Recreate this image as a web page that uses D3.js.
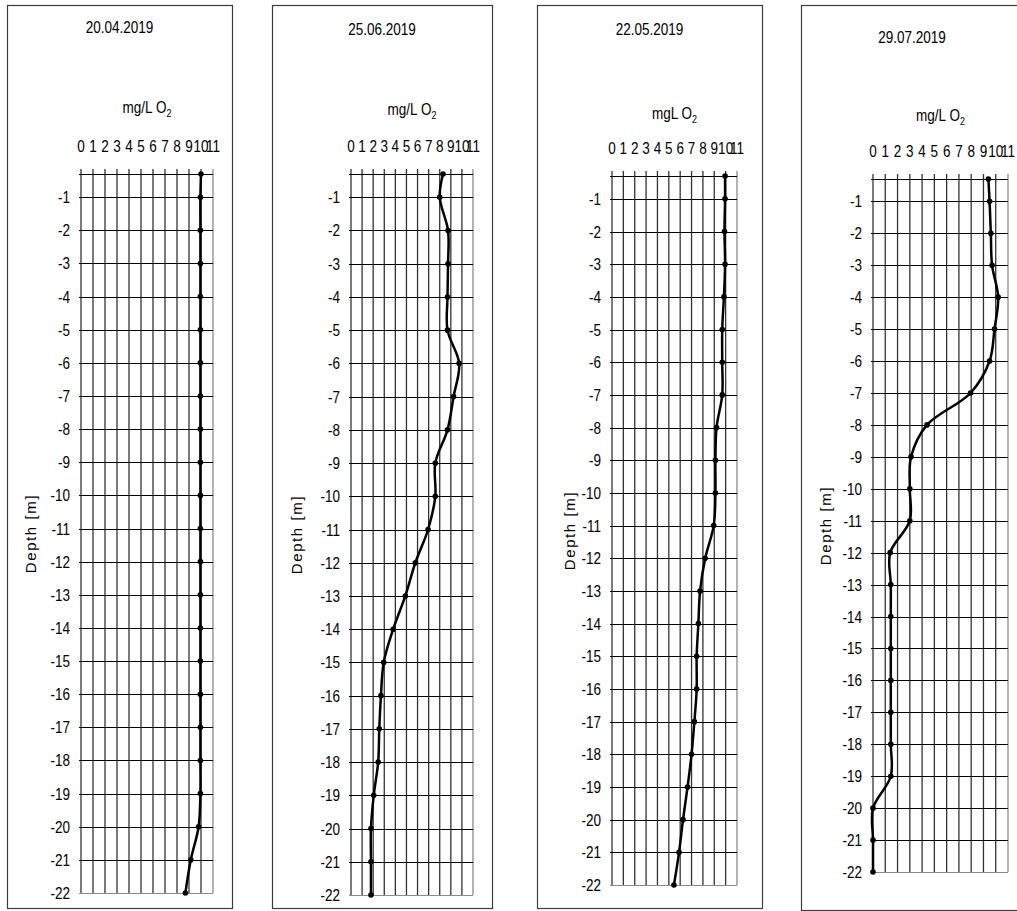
<!DOCTYPE html>
<html>
<head>
<meta charset="utf-8">
<script src="https://cdn.jsdelivr.net/npm/d3@7"></script>
<style>
  html, body { margin: 0; padding: 0; background: #fff; }
  svg { display: block; }
  text { font-family: "Liberation Sans", Arial, sans-serif; fill: #000; }
</style>
</head>
<body>
<script>
// Dissolved oxygen profiles (mg/L O2) against depth, one panel per sampling date.
const depths = [-0.3, -1, -2, -3, -4, -5, -6, -7, -8, -9, -10, -11,
                -12, -13, -14, -15, -16, -17, -18, -19, -20, -21, -22];

const o2_20Apr = [10.0, 9.95, 9.95, 9.95, 9.95, 9.95, 9.95, 9.95, 9.95, 9.95, 9.95, 9.95,
                  9.95, 9.95, 9.95, 9.95, 9.95, 9.95, 9.95, 9.95, 9.8, 9.15, 8.7];
const o2_25Jun = [8.3, 8.0, 8.75, 8.75, 8.7, 8.7, 9.75, 9.25, 8.7, 7.6, 7.6, 6.95,
                  5.8, 4.9, 3.8, 2.95, 2.7, 2.55, 2.45, 2.05, 1.8, 1.8, 1.8];
const o2_22May = [9.95, 9.95, 9.9, 9.95, 9.85, 9.7, 9.7, 9.7, 9.2, 9.1, 9.1, 8.95,
                  8.2, 7.75, 7.6, 7.45, 7.45, 7.25, 7.0, 6.65, 6.25, 5.9, 5.45];
const o2_29Jul = [9.4, 9.5, 9.6, 9.7, 10.2, 9.9, 9.5, 7.95, 4.4, 3.1, 3.0, 3.0,
                  1.4, 1.45, 1.45, 1.45, 1.45, 1.45, 1.45, 1.45, 0, 0, 0];

const dates = ["20.04.2019", "25.06.2019", "22.05.2019", "29.07.2019"];
const unitLabels = ["mg/L O", "mg/L O", "mgL O", "mg/L O"];
const depthTitle = "Depth [m]";
const xTicks = d3.range(0, 12);          // 0 .. 11 mg/L
const yTicks = d3.range(-1, -23, -1);    // -1 .. -22 m
const xDomain = [0, 11];
const yDomain = [-22, -0.3];

const series = [o2_20Apr, o2_25Jun, o2_22May, o2_29Jul];

// Panel geometry: outer frame and plot area for each date.
const panels = [
  { frame: [7, 5, 232, 908],   plot: [81, 174, 213, 893],  titleY: 33, unitY: 113, depthX: 31 },
  { frame: [272, 5, 492, 908], plot: [351, 174, 473, 895], titleY: 35, unitY: 115, depthX: 297 },
  { frame: [537, 5, 762, 908], plot: [612, 176, 737, 885], titleY: 35, unitY: 119, depthX: 570 },
  { frame: [801, 5, 1030, 910], plot: [873, 179, 1008, 872], titleY: 43, unitY: 121, depthX: 826 }
];

const W = 1017, H = 911;
const SX = 0.82;      // narrow text face
const FS = 16.5;

const svg = d3.select("body").append("svg")
  .attr("width", W).attr("height", H);

function label(g, x, y, str, anchor, size) {
  return g.append("text")
    .attr("transform", `translate(${x},${y}) scale(${SX},1)`)
    .attr("text-anchor", anchor || "middle")
    .style("font-size", (size || FS) + "px")
    .text(str);
}

panels.forEach((p, i) => {
  const g = svg.append("g");
  const [fx0, fy0, fx1, fy1] = p.frame;
  const [px0, py0, px1, py1] = p.plot;

  // outer frame
  g.append("rect")
    .attr("x", fx0 + 0.5).attr("y", fy0 + 0.5)
    .attr("width", fx1 - fx0).attr("height", fy1 - fy0)
    .attr("fill", "#fff").attr("stroke", "#3c3c3c").attr("stroke-width", 1.2);

  const x = d3.scaleLinear().domain(xDomain).range([px0, px1]);
  const y = d3.scaleLinear().domain(yDomain).range([py1, py0]);

  // vertical grid (with tick marks above the top edge)
  g.append("g").selectAll("line").data(xTicks).join("line")
    .attr("x1", d => x(d)).attr("x2", d => x(d))
    .attr("y1", py0 - 5).attr("y2", py1)
    .attr("stroke", d => d === xDomain[1] ? "#8a8a8a" : "#333")
    .attr("stroke-width", 1.3);

  // horizontal grid
  g.append("g").selectAll("line").data(yTicks).join("line")
    .attr("x1", px0 - 2).attr("x2", px1)
    .attr("y1", d => Math.round(y(d)) + 0.5).attr("y2", d => Math.round(y(d)) + 0.5)
    .attr("stroke", d => d === yDomain[0] ? "#8a8a8a" : "#000")
    .attr("stroke-width", 1.1);

  // top edge
  g.append("line")
    .attr("x1", px0 - 2).attr("x2", px1)
    .attr("y1", Math.round(py0) + 0.5).attr("y2", Math.round(py0) + 0.5)
    .attr("stroke", "#000").attr("stroke-width", 1.1);

  // top axis labels
  const topAxis = g.append("g");
  xTicks.forEach(t => label(topAxis, x(t), py0 - 22, String(t)));

  // depth labels
  const leftAxis = g.append("g");
  yTicks.forEach(t => label(leftAxis, px0 - 11, y(t) + 6, String(t), "end"));

  // title and unit
  label(g, (fx0 + fx1 > 1800 ? fx0 + 111 : (fx0 + fx1) / 2), p.titleY, dates[i]);
  const u = g.append("text")
    .attr("transform", `translate(${(px0 + px1) / 2},${p.unitY}) scale(${SX},1)`)
    .attr("text-anchor", "middle")
    .style("font-size", FS + "px");
  u.append("tspan").text(unitLabels[i]);
  u.append("tspan").attr("dy", 4).style("font-size", "11px").text("2");

  // axis title
  g.append("text")
    .attr("transform", `translate(${p.depthX + 5},${(py0 + py1) / 2}) rotate(-90)`)
    .attr("text-anchor", "middle")
    .style("font-size", "15px")
    .style("letter-spacing", "1.6px")
    .text(depthTitle);

  // profile line and points
  const pts = depths.map((d, k) => ({ depth: d, v: series[i][k] }));
  const line = d3.line()
    .x(d => x(d.v)).y(d => y(d.depth))
    .curve(d3.curveCatmullRom.alpha(0.5));
  g.append("path").datum(pts)
    .attr("d", line)
    .attr("fill", "none").attr("stroke", "#000").attr("stroke-width", 2.5)
    .attr("stroke-linejoin", "round");
  g.append("g").selectAll("circle").data(pts).join("circle")
    .attr("cx", d => x(d.v)).attr("cy", d => y(d.depth))
    .attr("r", 2.8).attr("fill", "#000");
});
</script>
</body>
</html>
